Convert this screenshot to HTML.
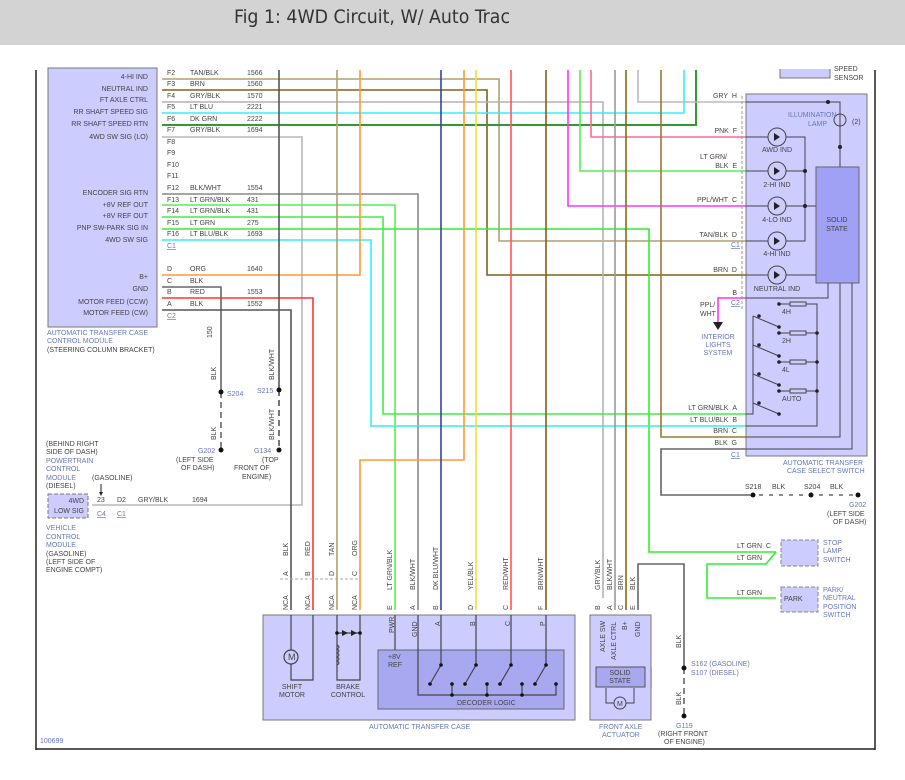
<!DOCTYPE html>
<html><head><meta charset="utf-8"><style>
html,body{margin:0;padding:0;background:#fff}
svg{display:block}
text{font-family:"Liberation Sans",sans-serif;font-size:7px;fill:#444}
.b{fill:#6677bb}
.w{fill:none;stroke-width:1.6}
</style></head><body>
<svg width="905" height="780" viewBox="0 0 905 780" xmlns="http://www.w3.org/2000/svg">
<rect x="0" y="0" width="905" height="45" fill="#d3d3d3"/>
<text x="234" y="23" style="font-size:19px;fill:#333;font-family:'DejaVu Sans Condensed','Liberation Sans Narrow','Liberation Sans',sans-serif" textLength="276" lengthAdjust="spacingAndGlyphs">Fig 1: 4WD Circuit, W/ Auto Trac</text>
<!-- frame -->
<line x1="36" y1="70" x2="36" y2="750" stroke="#222" stroke-width="1.5"/>
<line x1="875" y1="70" x2="875" y2="750" stroke="#222" stroke-width="1.5"/>
<line x1="36" y1="749" x2="875" y2="749" stroke="#222" stroke-width="1.5"/>

<!-- module -->
<rect x="48" y="68" width="109" height="259" fill="#ccccff" stroke="#777"/>
<g text-anchor="end">
<text x="148" y="79">4-HI IND</text><text x="148" y="91">NEUTRAL IND</text><text x="148" y="102">FT AXLE CTRL</text>
<text x="148" y="114">RR SHAFT SPEED SIG</text><text x="148" y="126">RR SHAFT SPEED RTN</text><text x="148" y="139">4WD SW SIG (LO)</text>
<text x="148" y="195">ENCODER SIG RTN</text><text x="148" y="207">+8V REF OUT</text><text x="148" y="218">+8V REF OUT</text>
<text x="148" y="230">PNP SW-PARK SIG IN</text><text x="148" y="242">4WD SW SIG</text>
<text x="148" y="279">B+</text><text x="148" y="291">GND</text><text x="148" y="304">MOTOR FEED (CCW)</text><text x="148" y="315">MOTOR FEED (CW)</text>
</g>
<text class="b" x="47" y="335">AUTOMATIC TRANSFER CASE</text><text class="b" x="47" y="343">CONTROL MODULE</text><text x="47" y="352">(STEERING COLUMN BRACKET)</text>
<g>
<text x="167" y="75">F2</text><text x="190" y="75">TAN/BLK</text><text x="247" y="75">1566</text>
<text x="167" y="86">F3</text><text x="190" y="86">BRN</text><text x="247" y="86">1560</text>
<text x="167" y="98">F4</text><text x="190" y="98">GRY/BLK</text><text x="247" y="98">1570</text>
<text x="167" y="109">F5</text><text x="190" y="109">LT BLU</text><text x="247" y="109">2221</text>
<text x="167" y="121">F6</text><text x="190" y="121">DK GRN</text><text x="247" y="121">2222</text>
<text x="167" y="132">F7</text><text x="190" y="132">GRY/BLK</text><text x="247" y="132">1694</text>
<text x="167" y="144">F8</text><text x="167" y="155">F9</text><text x="167" y="167">F10</text><text x="167" y="178">F11</text>
<text x="167" y="190">F12</text><text x="190" y="190">BLK/WHT</text><text x="247" y="190">1554</text>
<text x="167" y="202">F13</text><text x="190" y="202">LT GRN/BLK</text><text x="247" y="202">431</text>
<text x="167" y="213">F14</text><text x="190" y="213">LT GRN/BLK</text><text x="247" y="213">431</text>
<text x="167" y="225">F15</text><text x="190" y="225">LT GRN</text><text x="247" y="225">275</text>
<text x="167" y="236">F16</text><text x="190" y="236">LT BLU/BLK</text><text x="247" y="236">1693</text>
<text class="b" x="167" y="248" text-decoration="underline">C1</text>
<text x="167" y="271">D</text><text x="190" y="271">ORG</text><text x="247" y="271">1640</text>
<text x="167" y="283">C</text><text x="190" y="283">BLK</text>
<text x="167" y="294">B</text><text x="190" y="294">RED</text><text x="247" y="294">1553</text>
<text x="167" y="306">A</text><text x="190" y="306">BLK</text><text x="247" y="306">1552</text>
<text class="b" x="167" y="318" text-decoration="underline">C2</text>
</g>

<!-- wires -->
<g class="w">
<path d="M162 79H499V241H746" stroke="#b0a070"/>
<path d="M162 90H487V275H746" stroke="#806018"/>
<path d="M162 102H603V598" stroke="#b4b4b4"/>
<path d="M162 113H684V70" stroke="#33eeff"/>
<path d="M162 125H696V70" stroke="#339933" stroke-width="2"/>
<path d="M162 137H302V505H92" stroke="#b8b8b8"/>
<path d="M162 194H418V610" stroke="#888"/>
<path d="M162 205H395V610" stroke="#55ee55"/>
<path d="M162 217H383V414H746" stroke="#44ee44"/>
<path d="M162 229H649V552H776" stroke="#33ee33"/>
<path d="M162 240H371V426H746" stroke="#33eeee"/>
<path d="M162 275H360V70" stroke="#ff9933"/>
<path d="M360 610V460H464V70" stroke="#ff9933"/>
<path d="M162 287H221V392" stroke="#666"/>
<path d="M162 298H313V610" stroke="#ff3333"/>
<path d="M162 310H291V610" stroke="#555"/>
<path d="M279 70V390" stroke="#555"/>
<path d="M337 70V610" stroke="#b0a070"/>
<path d="M441 70V610" stroke="#334499"/>
<path d="M476 70V610" stroke="#f0e030"/>
<path d="M511 70V610" stroke="#ff5555"/>
<path d="M546 70V610" stroke="#806018"/>
<path d="M568 70V206H746" stroke="#ff33ff"/>
<path d="M580 70V171H746" stroke="#55ee55"/>
<path d="M591 70V137H746" stroke="#ff6699"/>
<path d="M638 70V102H746" stroke="#bbb"/>
<path d="M615 70V610" stroke="#999"/>
<path d="M626 70V610" stroke="#8b6914"/>
<path d="M661 70V437H746" stroke="#9b7a30"/>
<path d="M746 449H661V495H853" stroke="#666"/>
<path d="M638 610V564H684V668" stroke="#666"/>
<path d="M776 552L766 564H707V598H776" stroke="#33ee33"/>
<path d="M746 298H718V328" stroke="#ff33ff"/>
</g>
<path d="M753 495H853" stroke="#fff" stroke-width="2" stroke-dasharray="6 4"/>
<path d="M684 668V716" stroke="#666" stroke-width="1.6" stroke-dasharray="6 4"/>
<path d="M221 392V448" stroke="#666" stroke-width="1.6" stroke-dasharray="6 4"/>
<path d="M279 390V448" stroke="#555" stroke-width="1.6" stroke-dasharray="6 4"/>
<polygon points="713,322 723,322 718,330" fill="#222"/>
<g fill="#111"><circle cx="753" cy="495" r="2.5"/><circle cx="811" cy="495" r="2.5"/><circle cx="858" cy="495" r="2.5"/><circle cx="684" cy="668" r="2.5"/><circle cx="684" cy="716" r="2.5"/><circle cx="221" cy="392" r="2.5"/><circle cx="279" cy="390" r="2.5"/><circle cx="221" cy="450" r="2.5"/><circle cx="279" cy="450" r="2.5"/></g>

<!-- left lower labels -->
<text x="212" y="338" transform="rotate(-90 212 338)">150</text>
<text x="216" y="380" transform="rotate(-90 216 380)">BLK</text>
<text x="216" y="440" transform="rotate(-90 216 440)">BLK</text>
<text x="274" y="380" transform="rotate(-90 274 380)">BLK/WHT</text>
<text x="274" y="440" transform="rotate(-90 274 440)">BLK/WHT</text>
<text class="b" x="227" y="396">S204</text><text class="b" x="257" y="393">S215</text>
<text class="b" x="198" y="453">G202</text><text x="176" y="462">(LEFT SIDE</text><text x="181" y="470">OF DASH)</text>
<text class="b" x="254" y="453">G134</text><text x="262" y="462">(TOP</text><text x="234" y="470">FRONT OF</text><text x="242" y="479">ENGINE)</text>
<text x="46" y="446">(BEHIND RIGHT</text><text x="46" y="454">SIDE OF DASH)</text><text class="b" x="46" y="463">POWERTRAIN</text><text class="b" x="46" y="471">CONTROL</text><text class="b" x="46" y="480">MODULE</text><text x="92" y="480">(GASOLINE)</text><text x="46" y="488">(DIESEL)</text>
<path d="M101 484V494" stroke="#222"/><polygon points="99,492 103,492 101,496" fill="#222"/>
<rect x="48" y="494" width="40" height="24" fill="#ccccff" stroke="#777" stroke-dasharray="4 2"/>
<text x="84" y="503" text-anchor="end">4WD</text><text x="84" y="513" text-anchor="end">LOW SIG</text>
<text x="97" y="502">23</text><text x="117" y="502">D2</text><text x="138" y="502">GRY/BLK</text><text x="192" y="502">1694</text>
<text class="b" x="97" y="516" text-decoration="underline">C4</text><text class="b" x="117" y="516" text-decoration="underline">C1</text>
<text class="b" x="46" y="530">VEHICLE</text><text class="b" x="46" y="539">CONTROL</text><text class="b" x="46" y="547">MODULE</text><text x="46" y="556">(GASOLINE)</text><text x="46" y="564">(LEFT SIDE OF</text><text x="46" y="572">ENGINE COMPT)</text>

<!-- ATC bottom labels -->
<g>
<text x="288" y="556" transform="rotate(-90 288 556)">BLK</text><text x="310" y="556" transform="rotate(-90 310 556)">RED</text>
<text x="334" y="556" transform="rotate(-90 334 556)">TAN</text><text x="357" y="556" transform="rotate(-90 357 556)">ORG</text>
<text x="392" y="590" transform="rotate(-90 392 590)">LT GRN/BLK</text><text x="415" y="590" transform="rotate(-90 415 590)">BLK/WHT</text>
<text x="438" y="590" transform="rotate(-90 438 590)">DK BLU/WHT</text><text x="473" y="590" transform="rotate(-90 473 590)">YEL/BLK</text>
<text x="508" y="590" transform="rotate(-90 508 590)">RED/WHT</text><text x="543" y="590" transform="rotate(-90 543 590)">BRN/WHT</text>
<text x="600" y="590" transform="rotate(-90 600 590)">GRY/BLK</text><text x="612" y="590" transform="rotate(-90 612 590)">BLK/WHT</text>
<text x="623" y="590" transform="rotate(-90 623 590)">BRN</text><text x="635" y="590" transform="rotate(-90 635 590)">BLK</text>
<text x="288" y="576" transform="rotate(-90 288 576)">A</text><text x="310" y="576" transform="rotate(-90 310 576)">B</text><text x="334" y="576" transform="rotate(-90 334 576)">D</text><text x="357" y="576" transform="rotate(-90 357 576)">C</text>
<text x="288" y="610" transform="rotate(-90 288 610)">NCA</text><text x="310" y="610" transform="rotate(-90 310 610)">NCA</text><text x="334" y="610" transform="rotate(-90 334 610)">NCA</text><text x="357" y="610" transform="rotate(-90 357 610)">NCA</text>
<text x="392" y="610" transform="rotate(-90 392 610)">E</text><text x="415" y="610" transform="rotate(-90 415 610)">A</text><text x="438" y="610" transform="rotate(-90 438 610)">B</text><text x="473" y="610" transform="rotate(-90 473 610)">D</text><text x="508" y="610" transform="rotate(-90 508 610)">C</text><text x="543" y="610" transform="rotate(-90 543 610)">F</text>
<text x="600" y="610" transform="rotate(-90 600 610)">B</text><text x="612" y="610" transform="rotate(-90 612 610)">A</text><text x="623" y="610" transform="rotate(-90 623 610)">C</text><text x="635" y="610" transform="rotate(-90 635 610)">E</text>
<text x="681" y="648" transform="rotate(-90 681 648)">BLK</text><text x="681" y="705" transform="rotate(-90 681 705)">BLK</text>
</g>
<path d="M280 579H360" stroke="#aaa" stroke-dasharray="3 2"/>

<rect x="263" y="615" width="312" height="105" fill="#ccccff" stroke="#777"/>
<rect x="378" y="650" width="186" height="59" fill="#a8a8f0" stroke="#666"/>
<g stroke="#444" fill="none" stroke-width="1.2">
<path d="M291 615V680H313V615"/><circle cx="291" cy="657" r="7" fill="#ccccff"/>
<path d="M337 615V680H360V615"/><path d="M337 633H360"/>
<path d="M395 615V650"/><path d="M418 615V695H556V685"/>
<path d="M441 615V665L430 684"/><path d="M476 615V665L465 684"/><path d="M511 615V665L500 684"/><path d="M546 615V665L535 684"/>
<path d="M452 684V695M487 684V695M522 684V695"/>
<path d="M603 615V628M615 615V628M626 615V628M638 615V628"/>
<path d="M603 667V688H612M642 688H651V667"/>
</g>
<g fill="#111"><circle cx="430" cy="684" r="1.8"/><circle cx="465" cy="684" r="1.8"/><circle cx="500" cy="684" r="1.8"/><circle cx="535" cy="684" r="1.8"/><circle cx="441" cy="665" r="1.8"/><circle cx="476" cy="665" r="1.8"/><circle cx="511" cy="665" r="1.8"/><circle cx="546" cy="665" r="1.8"/><circle cx="452" cy="684" r="1.8"/><circle cx="487" cy="684" r="1.8"/><circle cx="522" cy="684" r="1.8"/><circle cx="556" cy="684" r="1.8"/><circle cx="452" cy="695" r="1.8"/><circle cx="487" cy="695" r="1.8"/><circle cx="522" cy="695" r="1.8"/><circle cx="337" cy="633" r="1.8"/><circle cx="360" cy="633" r="1.8"/></g>
<text x="288" y="660" style="font-size:9px">M</text>
<polygon points="342,630 348,633 342,636" fill="#222"/><polygon points="351,630 357,633 351,636" fill="#222"/>
<path d="M337 645q4 2 0 4q4 2 0 4q4 2 0 4q4 2 0 4q4 2 0 4" stroke="#444" fill="none"/>
<text x="292" y="689" text-anchor="middle">SHIFT</text><text x="292" y="697" text-anchor="middle">MOTOR</text>
<text x="348" y="689" text-anchor="middle">BRAKE</text><text x="348" y="697" text-anchor="middle">CONTROL</text>
<text x="394" y="633" transform="rotate(-90 394 633)">PWR</text><text x="417" y="637" transform="rotate(-90 417 637)">GND</text>
<text x="440" y="626" transform="rotate(-90 440 626)">A</text><text x="475" y="626" transform="rotate(-90 475 626)">B</text><text x="510" y="626" transform="rotate(-90 510 626)">C</text><text x="545" y="626" transform="rotate(-90 545 626)">P</text>
<text x="388" y="659">+8V</text><text x="388" y="667">REF</text>
<text x="457" y="705">DECODER LOGIC</text>
<text class="b" x="369" y="729">AUTOMATIC TRANSFER CASE</text>
<text class="b" x="40" y="743">100699</text>

<rect x="590" y="615" width="61" height="105" fill="#ccccff" stroke="#777"/>
<rect x="596" y="667" width="49" height="20" fill="#a8a8f0" stroke="#555"/>
<text x="620" y="675" text-anchor="middle">SOLID</text><text x="620" y="683" text-anchor="middle">STATE</text>
<circle cx="620" cy="703" r="6" fill="#ccccff" stroke="#444"/><text x="617" y="706">M</text>
<path d="M606 688V703H614M626 703H634V688" stroke="#444" fill="none"/>
<text x="605" y="652" transform="rotate(-90 605 652)">AXLE SW</text><text x="616" y="660" transform="rotate(-90 616 660)">AXLE CTRL</text>
<text x="627" y="630" transform="rotate(-90 627 630)">B+</text><text x="640" y="637" transform="rotate(-90 640 637)">GND</text>
<text class="b" x="599" y="729">FRONT AXLE</text><text class="b" x="602" y="737">ACTUATOR</text>
<text class="b" x="691" y="666">S162 (GASOLINE)</text><text class="b" x="691" y="675">S107 (DIESEL)</text>
<text class="b" x="676" y="728">G119</text><text x="658" y="736">(RIGHT FRONT</text><text x="664" y="744">OF ENGINE)</text>

<!-- right module -->
<rect x="780" y="66" width="50" height="12" fill="#ccccff" stroke="#777"/>
<rect x="770" y="60" width="80" height="9" fill="#fff"/>
<text x="834" y="71">SPEED</text><text x="834" y="80">SENSOR</text>
<rect x="746" y="94" width="121" height="362" fill="#ccccff" stroke="#777"/>
<path d="M742 96V310" stroke="#999" stroke-dasharray="3 2"/>
<rect x="816" y="167" width="43" height="116" fill="#a0a0f4" stroke="#666"/>
<text x="837" y="222" text-anchor="middle">SOLID</text><text x="837" y="231" text-anchor="middle">STATE</text>
<g stroke="#444" fill="none">
<path d="M746 102H840V167"/>
<path d="M746 137H805V241H746"/><path d="M746 171H805"/><path d="M746 206H816"/><path d="M746 275H816"/>
<path d="M746 298H828V283"/>
<path d="M779 304H817V426H746"/><path d="M746 437H840V283"/><path d="M746 449H852V283"/>
<path d="M746 414H753V316"/>
<path d="M753 316L779 327M753 345L779 356M753 374L779 385M753 403L779 414"/>
<path d="M779 333H817M779 362H817M779 391H817"/>
</g>
<g fill="#ccccff" stroke="#444"><circle cx="777" cy="137" r="9"/><circle cx="777" cy="171" r="9"/><circle cx="777" cy="206" r="9"/><circle cx="777" cy="241" r="9"/><circle cx="777" cy="275" r="9"/></g>
<g fill="#222"><polygon points="774,133 774,141 780,137"/><polygon points="774,167 774,175 780,171"/><polygon points="774,202 774,210 780,206"/><polygon points="774,237 774,245 780,241"/><polygon points="774,271 774,279 780,275"/>
<circle cx="828" cy="102" r="2"/><circle cx="840" cy="147" r="2"/><circle cx="805" cy="171" r="2"/><circle cx="805" cy="206" r="2"/>
<circle cx="779" cy="304" r="1.8"/><circle cx="779" cy="333" r="1.8"/><circle cx="779" cy="362" r="1.8"/><circle cx="779" cy="391" r="1.8"/><circle cx="817" cy="333" r="1.8"/><circle cx="817" cy="362" r="1.8"/><circle cx="817" cy="391" r="1.8"/>
<circle cx="759" cy="316" r="1.8"/><circle cx="759" cy="345" r="1.8"/><circle cx="759" cy="374" r="1.8"/><circle cx="759" cy="403" r="1.8"/><circle cx="779" cy="327" r="1.8"/><circle cx="779" cy="356" r="1.8"/><circle cx="779" cy="385" r="1.8"/><circle cx="779" cy="414" r="1.8"/></g>
<circle cx="840" cy="120" r="6" fill="none" stroke="#444"/>
<g fill="#ccccff" stroke="#444"><rect x="790" y="302" width="16" height="4"/><rect x="790" y="331" width="16" height="4"/><rect x="790" y="360" width="16" height="4"/><rect x="790" y="389" width="16" height="4"/></g>
<text class="b" x="788" y="117">ILLUMINATION</text><text class="b" x="808" y="126">LAMP</text><text x="852" y="124">(2)</text>
<text x="777" y="152" text-anchor="middle">AWD IND</text><text x="777" y="187" text-anchor="middle">2-HI IND</text><text x="777" y="222" text-anchor="middle">4-LO IND</text><text x="777" y="256" text-anchor="middle">4-HI IND</text><text x="777" y="291" text-anchor="middle">NEUTRAL IND</text>
<text x="782" y="314">4H</text><text x="782" y="343">2H</text><text x="782" y="372">4L</text><text x="782" y="401">AUTO</text>
<g text-anchor="end">
<text x="737" y="98">GRY&#160;&#160;H</text><text x="737" y="133">PNK&#160;&#160;F</text><text x="727" y="159">LT GRN/</text><text x="737" y="168">BLK&#160;&#160;E</text>
<text x="737" y="202">PPL/WHT&#160;&#160;C</text><text x="737" y="237">TAN/BLK&#160;&#160;D</text><text x="737" y="272">BRN&#160;&#160;D</text><text x="737" y="295">B</text>
<text x="737" y="410">LT GRN/BLK&#160;&#160;A</text><text x="737" y="422">LT BLU/BLK&#160;&#160;B</text><text x="737" y="433">BRN&#160;&#160;C</text><text x="737" y="445">BLK&#160;&#160;G</text>
</g>
<text class="b" x="731" y="247" text-decoration="underline">C1</text><text class="b" x="731" y="305" text-decoration="underline">C2</text><text class="b" x="731" y="457" text-decoration="underline">C1</text>
<text x="700" y="307">PPL/</text><text x="700" y="316">WHT</text>
<text class="b" x="718" y="339" text-anchor="middle">INTERIOR</text><text class="b" x="718" y="347" text-anchor="middle">LIGHTS</text><text class="b" x="718" y="355" text-anchor="middle">SYSTEM</text>
<text class="b" x="783" y="465">AUTOMATIC TRANSFER</text><text class="b" x="787" y="473">CASE SELECT SWITCH</text>
<text x="745" y="489">S218</text><text x="772" y="489">BLK</text><text x="804" y="489">S204</text><text x="830" y="489">BLK</text>
<text class="b" x="849" y="507">G202</text><text x="827" y="516">(LEFT SIDE</text><text x="833" y="524">OF DASH)</text>
<text x="737" y="548">LT GRN&#160;&#160;C</text><text x="737" y="560">LT GRN</text><text x="737" y="595">LT GRN</text>
<rect x="781" y="540" width="37" height="26" fill="#ccccff" stroke="#888" stroke-dasharray="4 2"/>
<rect x="781" y="587" width="37" height="25" fill="#ccccff" stroke="#888" stroke-dasharray="4 2"/>
<text x="784" y="601">PARK</text>
<text class="b" x="823" y="545">STOP</text><text class="b" x="823" y="553">LAMP</text><text class="b" x="823" y="562">SWITCH</text>
<text class="b" x="823" y="592">PARK/</text><text class="b" x="823" y="600">NEUTRAL</text><text class="b" x="823" y="609">POSITION</text><text class="b" x="823" y="617">SWITCH</text>
</svg>
</body></html>
